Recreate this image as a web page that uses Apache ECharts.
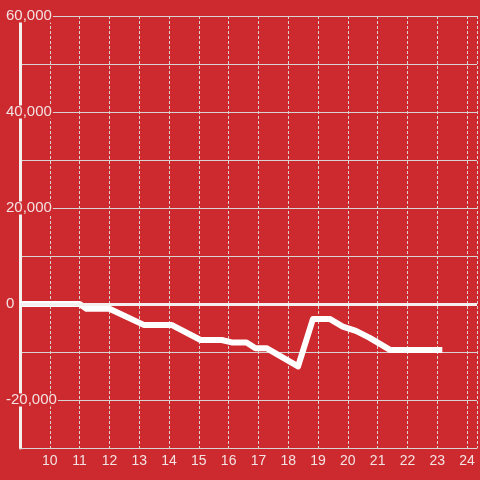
<!DOCTYPE html>
<html>
<head>
<meta charset="utf-8">
<script src="https://cdn.jsdelivr.net/npm/echarts@6/dist/echarts.min.js"></script>
<style>
  html, body { margin: 0; padding: 0; background: #cc2a2f; }
  #chart { width: 480px; height: 480px; }
</style>
</head>
<body>
<div id="chart"></div>
<script>
// hour of day vs running total
var hours = [9, 11.0, 11.23, 12.0, 13.17, 14.1, 15.06, 15.77, 16.1, 16.6, 16.9, 17.27, 18.33, 18.83, 19.39, 19.83, 20.27, 20.72, 21.43, 23.17];
var totals = [0, 0, -1000, -1000, -4400, -4400, -7500, -7500, -8000, -8000, -9200, -9200, -13000, -3100, -3100, -4700, -5600, -7000, -9600, -9600];
var yLabelStep = 20000;

var bg = '#cc2a2f';
var textColor = '#f3e2e2';
var gridColor = '#d9d4d4';

var points = hours.map(function (h, i) { return [h, totals[i]]; });

var chart = echarts.init(document.getElementById('chart'));
chart.setOption({
  animation: false,
  backgroundColor: bg,
  textStyle: { fontFamily: 'Liberation Sans, Arial, sans-serif' },
  grid: { left: 20, right: 0, top: 16, bottom: 32 },
  xAxis: {
    type: 'value',
    min: 9,
    max: 9 + 460 / 30,
    interval: 1,
    axisLine: { show: true, onZero: false, lineStyle: { color: gridColor, width: 1 } },
    axisTick: { show: false },
    axisLabel: {
      color: textColor,
      fontSize: 14,
      margin: 6,
      formatter: function (v) { return (Number.isInteger(v) && v > 9) ? String(v) : ''; }
    },
    splitLine: { show: true, lineStyle: { color: gridColor, width: 1, type: [3, 2] } }
  },
  yAxis: [
    {
      type: 'value',
      min: -30000,
      max: 60000,
      interval: 10000,
      axisLine: { show: true, lineStyle: { color: '#f4f0f0', width: 3 } },
      axisTick: { show: false },
      axisLabel: { show: false },
      splitLine: { show: true, lineStyle: { color: gridColor, width: 1 } }
    },
    {
      type: 'value',
      position: 'left',
      min: -30000,
      max: 60000,
      interval: 10000,
      z: 10,
      axisLine: { show: false },
      axisTick: { show: false },
      splitLine: { show: false },
      axisLabel: {
        color: textColor,
        fontSize: 15,
        align: 'left',
        margin: 15,
        lineHeight: 13,
        backgroundColor: bg,
        padding: [0, 1],
        formatter: function (v) { return v % yLabelStep === 0 ? v.toLocaleString('en-US') : ''; }
      }
    }
  ],
  series: [
    {
      type: 'line',
      yAxisIndex: 0,
      data: points,
      symbol: 'none',
      lineStyle: { color: '#ffffff', width: 6, join: 'round' },
      markLine: {
        silent: true,
        symbol: ['none', 'none'],
        label: { show: false },
        lineStyle: { color: '#f4f0f0', width: 3, type: 'solid' },
        data: [{ yAxis: 0 }]
      }
    }
  ]
});
</script>
</body>
</html>
